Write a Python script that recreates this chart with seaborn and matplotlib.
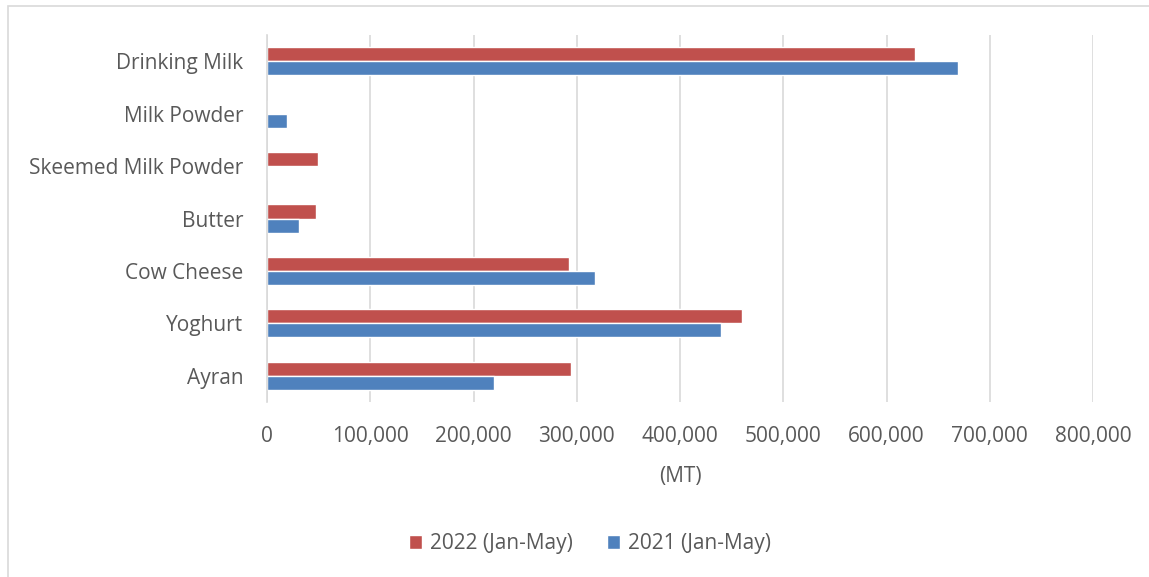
"""Dairy products output, Jan-May 2021 vs 2022, horizontal grouped bars."""

import matplotlib

matplotlib.use("Agg")
import matplotlib.pyplot as plt
import pandas as pd
import seaborn as sns
from matplotlib.patches import Rectangle
from matplotlib.ticker import FuncFormatter

# Data (MT)
products = ["Drinking Milk", "Milk Powder", "Skeemed Milk Powder", "Butter",
            "Cow Cheese", "Yoghurt", "Ayran"]
values_2022 = [627600, 0, 49000, 47800, 292900, 460000, 294500]
values_2021 = [669000, 19400, 0, 31000, 318000, 440000, 220000]
series = ["2022 (Jan-May)", "2021 (Jan-May)"]
x_ticks = [0, 100000, 200000, 300000, 400000, 500000, 600000, 700000, 800000]

RED = "#C0504D"
BLUE = "#4F81BD"
TEXT = "#595959"


def main() -> None:
    frame = pd.concat(
        [
            pd.DataFrame({"product": products, "value": values_2022, "year": series[0]}),
            pd.DataFrame({"product": products, "value": values_2021, "year": series[1]}),
        ],
        ignore_index=True,
    )

    sns.set_theme(style="white")
    plt.rcParams["font.family"] = ["Open Sans", "DejaVu Sans"]

    fig = plt.figure(figsize=(11.49, 5.77), dpi=100)
    ax = fig.add_axes([267 / 1149, 1 - 402 / 577, (1093 - 267) / 1149, (402 - 35) / 577])

    sns.barplot(
        data=frame,
        x="value",
        y="product",
        hue="year",
        hue_order=series,
        order=products,
        palette=[RED, BLUE],
        width=0.535,
        saturation=1,
        dodge=True,
        ax=ax,
    )

    ax.set_xlim(0, 800000)
    ax.set_xticks(x_ticks)
    ax.xaxis.set_major_formatter(FuncFormatter(lambda v, _: f"{int(v):,}"))
    ax.grid(axis="x", color="#D9D9D9", linewidth=1.2)
    ax.set_axisbelow(True)
    for side in ["top", "right", "bottom"]:
        ax.spines[side].set_visible(False)
    ax.spines["left"].set_color("#D9D9D9")
    ax.spines["left"].set_linewidth(1.2)

    ax.tick_params(axis="y", length=0, pad=17, labelsize=15, labelcolor=TEXT)
    ax.tick_params(axis="x", length=0, pad=17, labelsize=15, labelcolor=TEXT)
    ax.set_ylabel("")
    ax.set_xlabel("(MT)", fontsize=15, color=TEXT, labelpad=14)

    ax.legend(
        loc="center",
        bbox_to_anchor=(590 / 1149, 1 - 544 / 577),
        bbox_transform=fig.transFigure,
        ncol=2,
        frameon=False,
        fontsize=15,
        labelcolor=TEXT,
        handlelength=0.65,
        handleheight=0.65,
        handletextpad=0.4,
        columnspacing=1.6,
    )

    # light chart-area border like the original Excel export
    fig.patches.append(
        Rectangle((8 / 1149, -0.1), 1.2, 1.1 - 6 / 577, transform=fig.transFigure,
                  fill=False, edgecolor="#D9D9D9", linewidth=1.2)
    )

    fig.savefig("out.png", dpi=100)
    plt.close(fig)


if __name__ == "__main__":
    main()
